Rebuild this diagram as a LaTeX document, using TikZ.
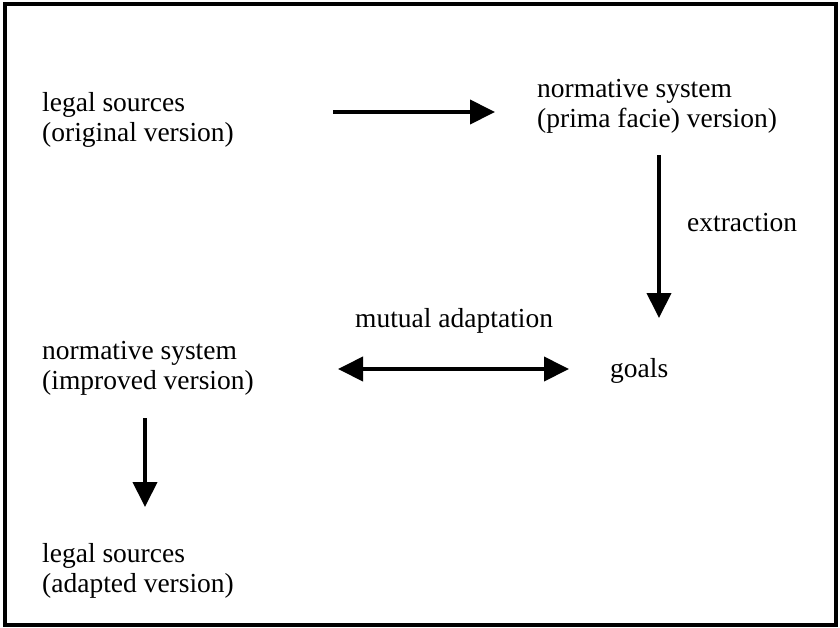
\documentclass[tikz,border=0pt]{standalone}
\usepackage{fontspec}
\setmainfont{Liberation Serif}
\usetikzlibrary{arrows.meta}
\begin{document}
\begin{tikzpicture}[x=1pt,y=-1pt,
    every node/.style={inner sep=0pt,anchor=west,align=left,
      font=\fontsize{27.5}{30}\selectfont},
    tip/.tip={Triangle[length=25pt,width=24pt]},
    arr/.style={line width=4pt,-tip}]
  \useasboundingbox (0,0) rectangle (840,627);
  \draw[line width=4pt] (5,4) rectangle (836,625);
  \draw
    (42,120) node (src){legal sources\\(original version)}
    (537,106) node (prima){normative system\\(prima facie) version)}
    (687,223) node (extr){extraction}
    (610,371) node (goals){goals}
    (355,321) node (mutual){mutual adaptation}
    (42,368) node (improved){normative system\\(improved version)}
    (42,571) node (adapted){legal sources\\(adapted version)};
  \coordinate (a1) at (333,112);
  \coordinate (a2) at (495,112);
  \coordinate (b1) at (659,155);
  \coordinate (b2) at (659,318);
  \coordinate (c1) at (338,369);
  \coordinate (c2) at (569,369);
  \coordinate (d1) at (145,418);
  \coordinate (d2) at (145,507);
  \begin{scope}[arr]
    \draw (a1) to (a2);
    \draw (b1) to (b2);
    \draw[tip-tip] (c1) to (c2);
    \draw (d1) to (d2);
  \end{scope}
\end{tikzpicture}
\end{document}
